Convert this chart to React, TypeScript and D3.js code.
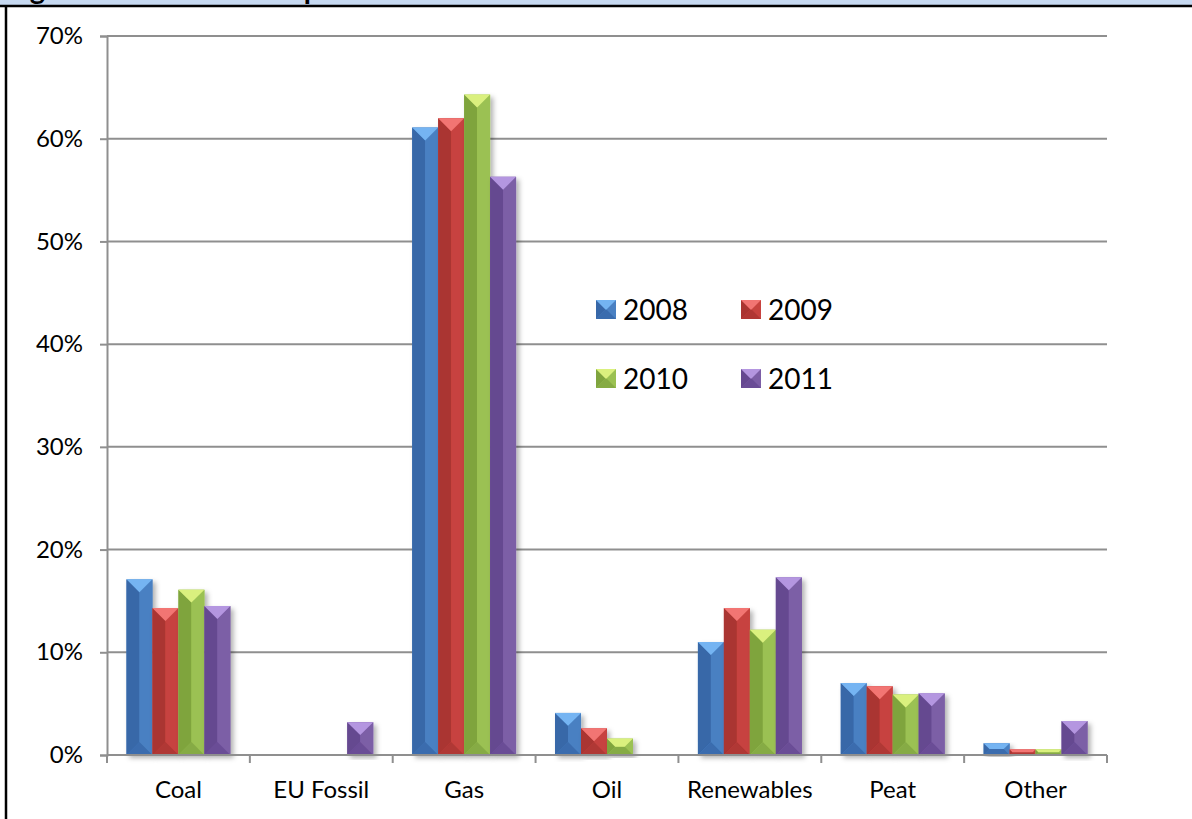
import { useEffect, useRef } from 'react';
import * as d3 from 'd3';

const categories = ['Coal', 'EU Fossil', 'Gas', 'Oil', 'Renewables', 'Peat', 'Other'];
const years = ['2008', '2009', '2010', '2011'];
const values2008 = [17.1, 0, 61.1, 4.1, 11.0, 7.0, 1.15];
const values2009 = [14.3, 0, 62.0, 2.6, 14.3, 6.7, 0.55];
const values2010 = [16.1, 0, 64.3, 1.6, 12.2, 5.9, 0.55];
const values2011 = [14.5, 3.2, 56.3, 0, 17.3, 6.0, 3.3];
const yTicks = [0, 10, 20, 30, 40, 50, 60, 70];

// facet shades per series: top, left, right, bottom
const shades = [
  { top: '#74b4f2', left: '#3767a8', right: '#4a80c2', bottom: '#3a6cae' },
  { top: '#f27573', left: '#aa3431', right: '#c7433f', bottom: '#b03734' },
  { top: '#daf07e', left: '#7fa43e', right: '#9bc152', bottom: '#86ab44' },
  { top: '#b496e0', left: '#654890', right: '#7c5ea6', bottom: '#6a4d96' },
];

export default function App() {
  const svgRef = useRef<SVGSVGElement>(null);

  useEffect(() => {
    const W = 1192;
    const H = 819;
    const svg = d3.select(svgRef.current).attr('width', W).attr('height', H);
    svg.selectAll('*').remove();

    const font = 'Lato, Carlito, "Open Sans", sans-serif';
    const series = [values2008, values2009, values2010, values2011];

    const defs = svg.append('defs');
    const f = defs.append('filter').attr('id', 'shadow')
      .attr('x', '-20%').attr('y', '-5%').attr('width', '160%').attr('height', '120%');
    f.append('feDropShadow').attr('dx', 3).attr('dy', 3).attr('stdDeviation', 2.5)
      .attr('flood-color', '#000').attr('flood-opacity', 0.3);

    // page frame (title is cut off at the top edge)
    svg.append('rect').attr('width', W).attr('height', H).attr('fill', '#fff');
    svg.append('rect').attr('x', 0).attr('y', 0).attr('width', W).attr('height', 6).attr('fill', '#c6d9f1');
    svg.append('text')
      .attr('x', 6).attr('y', -1)
      .attr('font-family', font).attr('font-weight', 700).attr('font-size', 29)
      .text('Figure 3: Fuel Mix Comparison 2008 - 2011');
    svg.append('line').attr('x1', 0).attr('x2', W).attr('y1', 6).attr('y2', 6)
      .attr('stroke', '#000').attr('stroke-width', 2.5);
    svg.append('line').attr('x1', 6).attr('x2', 6).attr('y1', 6).attr('y2', H)
      .attr('stroke', '#000').attr('stroke-width', 2.5);

    const x0 = 107, x1 = 1107;
    const y = d3.scaleLinear().domain([0, 70]).range([755, 36]);
    const xCat = d3.scaleBand().domain(categories).range([x0, x1]).paddingInner(0).paddingOuter(0);
    const xSer = d3.scaleBand().domain(years).range([0, xCat.bandwidth()]).paddingOuter(0.75).paddingInner(0);

    // gridlines
    svg.append('g').selectAll('line').data(yTicks.filter(t => t > 0)).join('line')
      .attr('x1', x0).attr('x2', x1)
      .attr('y1', d => y(d)).attr('y2', d => y(d))
      .attr('stroke', '#8f8f8f').attr('stroke-width', 2);

    // y axis
    const yAxis = svg.append('g').attr('transform', `translate(${x0},0)`)
      .call(d3.axisLeft(y).tickValues(yTicks).tickSize(7).tickPadding(17).tickFormat(d => `${d}%`));
    yAxis.select('.domain').attr('stroke', '#8f8f8f').attr('stroke-width', 2);
    yAxis.selectAll('.tick line').attr('stroke', '#8f8f8f').attr('stroke-width', 2);
    yAxis.selectAll('text').attr('font-family', font).attr('font-size', 24).attr('fill', '#000');

    // bevelled bars
    const bevel = (g: any, x: number, yt: number, w: number, h: number, s: any) => {
      const b = Math.min(w / 2, h / 2);
      const poly = (pts: number[][], c: string) =>
        g.append('polygon').attr('points', pts.map(p => p.join(',')).join(' ')).attr('fill', c);
      g.append('rect').attr('x', x).attr('y', yt).attr('width', w).attr('height', h).attr('fill', s.right);
      poly([[x, yt], [x + b, yt + b], [x + b, yt + h - b], [x, yt + h]], s.left);
      poly([[x + w, yt], [x + w - b, yt + b], [x + w - b, yt + h - b], [x + w, yt + h]], s.right);
      poly([[x, yt + h], [x + w, yt + h], [x + w - b, yt + h - b], [x + b, yt + h - b]], s.bottom);
      poly([[x, yt], [x + w, yt], [x + w - b, yt + b], [x + b, yt + b]], s.top);
    };

    const barsG = svg.append('g');
    categories.forEach((c, ci) => {
      years.forEach((yr, si) => {
        const v = series[si][ci];
        if (!v) return;
        const bx = (xCat(c) as number) + (xSer(yr) as number);
        const bw = xSer.bandwidth();
        const g = barsG.append('g').attr('filter', 'url(#shadow)');
        bevel(g, bx, y(v), bw, y(0) - y(v), shades[si]);
      });
    });

    // x axis
    const xAxis = svg.append('g').attr('transform', `translate(0,${y(0)})`);
    xAxis.append('line').attr('x1', x0).attr('x2', x1).attr('stroke', '#8f8f8f').attr('stroke-width', 2);
    xAxis.selectAll('line.tk').data(d3.range(categories.length + 1)).join('line').attr('class', 'tk')
      .attr('x1', i => x0 + i * xCat.bandwidth()).attr('x2', i => x0 + i * xCat.bandwidth())
      .attr('y1', 0).attr('y2', 8).attr('stroke', '#8f8f8f').attr('stroke-width', 2);
    xAxis.selectAll('text').data(categories).join('text')
      .attr('x', d => (xCat(d) as number) + xCat.bandwidth() / 2).attr('y', 43)
      .attr('text-anchor', 'middle').attr('font-family', font).attr('font-size', 24).attr('fill', '#000')
      .text(d => d);

    // legend
    const legend = svg.append('g');
    const lx = [596, 741];
    const ly = [300, 369];
    years.forEach((yr, i) => {
      const col = i % 2, row = Math.floor(i / 2);
      bevel(legend.append('g'), lx[col], ly[row], 20, 19, shades[i]);
      legend.append('text').attr('x', lx[col] + 27).attr('y', ly[row] + 20)
        .attr('font-family', font).attr('font-size', 28).attr('fill', '#000').text(yr);
    });
  }, []);

  return (
    <div style={{ position: 'absolute', left: 0, top: 0 }}>
      <svg ref={svgRef} style={{ display: 'block' }}></svg>
    </div>
  );
}
